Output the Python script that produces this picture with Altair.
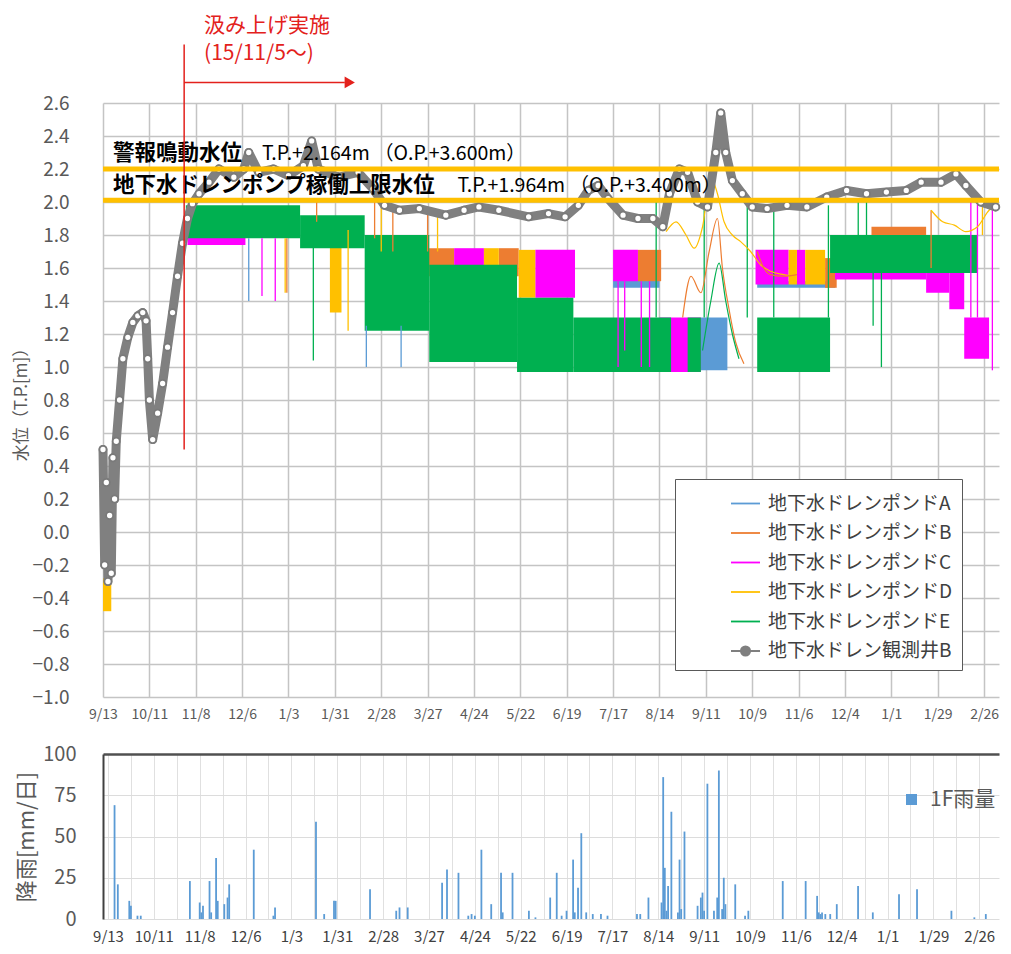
import altair as alt
import pandas as pd

# ---------------- series ----------------
series_codes = ["A", "B", "C", "D", "E", "W"]
series_names = ["地下水ドレンポンドA", "地下水ドレンポンドB", "地下水ドレンポンドC",
                "地下水ドレンポンドD", "地下水ドレンポンドE", "地下水ドレン観測井B"]
series_colors = ["#5B9BD5", "#ED7D31", "#FF00FF", "#FFC000", "#00B050", "#7F7F7F"]
legend_shapes = ["stroke", "stroke", "stroke", "stroke", "stroke",
                 "M-1,0L-0.32,0M0.32,0L1,0M0.32,0A0.32,0.32,0,1,1,-0.32,0A0.32,0.32,0,1,1,0.32,0Z"]
code_to_name = dict(zip(series_codes, series_names))

# ---------------- pond level ranges (oscillation envelopes) ----------------
band_series = ["A", "A", "A",
               "B", "B", "B", "B", "B",
               "C", "C", "C", "C", "C", "C", "C", "C", "C", "C", "C",
               "D", "D", "D", "D", "D", "D",
               "E", "E", "E", "E", "E", "E", "E", "E", "E"]
band_start = ["2016-09-08", "2016-07-17", "2016-10-12",
              "2016-03-22", "2016-05-09", "2016-08-01", "2016-11-22", "2016-12-20",
              "2015-11-03", "2016-04-12", "2016-05-31", "2016-07-17", "2016-08-14", "2016-10-11",
              "2016-11-05", "2016-11-28", "2017-01-22", "2017-02-05", "2017-02-14",
              "2015-09-13", "2016-01-28", "2016-04-30", "2016-05-21", "2016-10-31", "2016-11-10",
              "2015-11-02", "2016-01-10", "2016-02-18", "2016-03-28", "2016-05-20", "2016-06-23",
              "2016-08-31", "2016-10-12", "2016-11-25"]
band_end = ["2016-09-24", "2016-08-14", "2016-11-28",
            "2016-04-12", "2016-05-21", "2016-08-15", "2016-11-29", "2017-01-22",
            "2015-12-08", "2016-04-30", "2016-06-24", "2016-08-01", "2016-09-08", "2016-10-31",
            "2016-11-10", "2017-01-22", "2017-02-05", "2017-02-14", "2017-03-01",
            "2015-09-18", "2016-02-04", "2016-05-09", "2016-05-31", "2016-11-05", "2016-11-22",
            "2016-01-10", "2016-02-18", "2016-03-28", "2016-05-20", "2016-06-23", "2016-08-21",
            "2016-09-08", "2016-11-25", "2017-02-22"]
band_low = [0.98, 1.48, 1.48,
            1.55, 1.55, 1.52, 1.48, 1.60,
            1.74, 1.55, 1.42, 1.52, 0.97, 1.50, 1.50, 1.53, 1.45, 1.35, 1.05,
            -0.48, 1.33, 1.55, 1.42, 1.50, 1.50,
            1.78, 1.72, 1.22, 1.03, 0.97, 0.97, 0.97, 0.97, 1.57]
band_high = [1.30, 1.53, 1.52,
             1.72, 1.72, 1.71, 1.66, 1.85,
             1.87, 1.72, 1.71, 1.71, 1.30, 1.71, 1.71, 1.65, 1.62, 1.62, 1.30,
             -0.28, 1.75, 1.72, 1.71, 1.71, 1.71,
             1.98, 1.92, 1.80, 1.62, 1.42, 1.30, 1.30, 1.30, 1.80]

# ---------------- short excursions of pond levels ----------------
spike_series = ["A", "A", "A",
                "B", "B", "B", "B", "B", "B",
                "C", "C", "C", "C", "C", "C", "C", "C", "C",
                "D", "D", "D", "D", "D",
                "E", "E", "E", "E", "E", "E", "E", "E", "E", "E"]
spike_date = ["2015-12-10", "2016-02-19", "2016-03-11",
              "2016-01-02", "2016-01-20", "2016-02-24", "2016-03-06", "2016-03-27", "2017-01-25",
              "2015-12-18", "2015-12-26", "2016-07-20", "2016-07-24", "2016-08-03", "2016-08-08",
              "2017-02-18", "2017-02-22", "2017-03-03",
              "2016-01-01", "2016-02-08", "2016-02-28", "2016-04-02", "2017-02-25",
              "2016-01-18", "2016-08-12", "2016-09-10", "2016-10-06", "2016-10-22", "2016-11-24",
              "2016-12-12", "2016-12-17", "2016-12-21", "2016-12-26"]
spike_low = [1.40, 1.00, 1.00,
             1.45, 1.88, 1.78, 1.70, 1.70, 1.60,
             1.43, 1.40, 1.00, 1.10, 1.00, 1.00, 1.30, 1.30, 0.98,
             1.45, 1.22, 1.70, 1.70, 1.80,
             1.04, 1.30, 1.30, 1.30, 1.30, 1.30, 1.80, 1.80, 1.25, 1.00]
spike_high = [1.78, 1.25, 1.25,
              1.78, 2.00, 2.00, 1.98, 1.95, 1.95,
              1.78, 1.78, 1.52, 1.52, 1.52, 1.52, 2.00, 2.00, 2.00,
              1.78, 1.83, 2.00, 1.95, 2.00,
              1.75, 2.00, 1.98, 1.98, 1.98, 1.98, 2.00, 2.00, 1.57, 1.57]

# ---------------- slowly varying pond traces ----------------
trace_series = (["D"] * 15 + ["D"] * 7 + ["B"] * 9 + ["B"] * 5 + ["E"] * 6)
trace_seg = (["d1"] * 15 + ["d2"] * 7 + ["b1"] * 9 + ["b2"] * 5 + ["e1"] * 6)
trace_date = ["2016-08-18", "2016-08-24", "2016-08-30", "2016-09-04", "2016-09-09", "2016-09-14",
              "2016-09-18", "2016-09-22", "2016-09-27", "2016-10-02", "2016-10-08", "2016-10-14",
              "2016-10-20", "2016-10-28", "2016-11-04",
              "2017-01-25", "2017-02-01", "2017-02-08", "2017-02-15", "2017-02-22", "2017-03-01", "2017-03-05",
              "2016-08-28", "2016-09-02", "2016-09-08", "2016-09-13", "2016-09-18", "2016-09-21",
              "2016-09-25", "2016-09-29", "2016-10-04",
              "2016-10-12", "2016-10-16", "2016-10-20", "2016-10-28", "2016-11-05",
              "2016-09-09", "2016-09-14", "2016-09-19", "2016-09-23", "2016-09-27", "2016-10-01"]
trace_value = [1.82, 1.88, 1.80, 1.72, 1.85, 2.15, 2.05, 1.88, 1.80, 1.76, 1.70, 1.62, 1.58, 1.56, 1.55,
               1.95, 1.88, 1.86, 1.82, 1.85, 1.95, 1.98,
               1.30, 1.55, 1.45, 1.70, 1.90, 1.60, 1.35, 1.15, 1.02,
               1.70, 1.60, 1.56, 1.55, 1.56,
               1.10, 1.40, 1.63, 1.40, 1.20, 1.05]

# ---------------- observation well B ----------------
well_date = ["2015-09-13", "2015-09-14", "2015-09-15", "2015-09-16", "2015-09-17", "2015-09-18",
             "2015-09-19", "2015-09-20", "2015-09-21", "2015-09-23", "2015-09-25", "2015-09-28",
             "2015-10-01", "2015-10-04", "2015-10-07", "2015-10-09", "2015-10-10", "2015-10-11",
             "2015-10-13", "2015-10-16", "2015-10-19", "2015-10-22", "2015-10-25", "2015-10-28",
             "2015-10-31", "2015-11-03", "2015-11-06", "2015-11-10", "2015-11-16", "2015-11-22",
             "2015-12-01", "2015-12-07", "2015-12-10", "2015-12-16", "2015-12-25", "2016-01-03",
             "2016-01-12", "2016-01-17", "2016-01-21", "2016-02-02", "2016-02-14", "2016-02-23",
             "2016-03-01", "2016-03-10", "2016-03-22", "2016-04-07", "2016-04-18", "2016-04-27",
             "2016-05-09", "2016-05-27", "2016-06-08", "2016-06-18", "2016-06-26", "2016-07-02",
             "2016-07-08", "2016-07-14", "2016-07-23", "2016-08-01", "2016-08-10", "2016-08-16",
             "2016-08-20", "2016-08-26", "2016-08-31", "2016-09-06", "2016-09-12", "2016-09-17",
             "2016-09-20", "2016-09-23", "2016-09-27", "2016-10-03", "2016-10-09", "2016-10-18",
             "2016-10-30", "2016-11-11", "2016-11-23", "2016-12-05", "2016-12-17", "2016-12-29",
             "2017-01-10", "2017-01-19", "2017-01-31", "2017-02-09", "2017-02-15", "2017-02-24",
             "2017-03-05"]
well_value = [0.50, -0.20, 0.30, -0.30, 0.10, -0.25,
              0.45, 0.20, 0.55, 0.80, 1.05, 1.18,
              1.27, 1.31, 1.33, 1.28, 1.05, 0.80,
              0.56, 0.72, 0.90, 1.12, 1.33, 1.55,
              1.75, 1.90, 1.99, 2.05, 2.12, 2.20,
              2.15, 2.20, 2.30, 2.18, 2.20, 2.16,
              2.22, 2.37, 2.20, 2.15, 2.18, 2.08,
              1.98, 1.95, 1.96, 1.92, 1.95, 1.97,
              1.95, 1.91, 1.93, 1.91, 1.98, 2.07,
              2.10, 2.02, 1.92, 1.90, 1.90, 1.85,
              2.05, 2.20, 2.18, 2.00, 1.97, 2.30,
              2.54, 2.30, 2.13, 2.05, 1.97, 1.96,
              1.98, 1.97, 2.03, 2.07, 2.05, 2.06,
              2.07, 2.12, 2.12, 2.17, 2.10, 2.00,
              1.97]

# ---------------- rainfall ----------------
rain_date = ["2015-09-17", "2015-09-19", "2015-09-26", "2015-09-27", "2015-10-01", "2015-10-03",
             "2015-11-02", "2015-11-08", "2015-11-09", "2015-11-10", "2015-11-14", "2015-11-15",
             "2015-11-18", "2015-11-19", "2015-11-23", "2015-11-25", "2015-11-26", "2015-12-11",
             "2015-12-23", "2015-12-24", "2016-01-18", "2016-01-23", "2016-01-29", "2016-01-30",
             "2016-02-20", "2016-03-07", "2016-03-09", "2016-03-14", "2016-04-04", "2016-04-07",
             "2016-04-14", "2016-04-20", "2016-04-22", "2016-04-24", "2016-04-28", "2016-05-04",
             "2016-05-10", "2016-05-11", "2016-05-17", "2016-05-27", "2016-05-31", "2016-06-09",
             "2016-06-13", "2016-06-16", "2016-06-19", "2016-06-23", "2016-06-24", "2016-06-26",
             "2016-06-28", "2016-07-01", "2016-07-05", "2016-07-10", "2016-07-14", "2016-08-01",
             "2016-08-03", "2016-08-08", "2016-08-16", "2016-08-17", "2016-08-18", "2016-08-19",
             "2016-08-20", "2016-08-22", "2016-08-26", "2016-08-27", "2016-08-28", "2016-08-30",
             "2016-09-07", "2016-09-09", "2016-09-10", "2016-09-11", "2016-09-13", "2016-09-17",
             "2016-09-19", "2016-09-20", "2016-09-22", "2016-09-23", "2016-09-24", "2016-09-30",
             "2016-10-06", "2016-10-08", "2016-10-29", "2016-11-12", "2016-11-19", "2016-11-20",
             "2016-11-21", "2016-11-22", "2016-11-24", "2016-11-27", "2016-12-01", "2016-12-14",
             "2016-12-23", "2017-01-08", "2017-01-19", "2017-02-09", "2017-02-23", "2017-03-02"]
rain_mm = [69, 21, 11, 8, 2, 2,
           23, 10, 4, 8, 23, 4,
           37, 11, 9, 13, 21, 42,
           2, 7, 59, 3, 11, 11,
           18, 5, 7, 7, 22, 30,
           28, 2, 3, 2, 42, 9,
           28, 4, 28, 5, 1, 13,
           28, 2, 5, 36, 4, 19,
           52, 4, 3, 3, 2, 3,
           3, 13, 10, 86, 31, 5,
           20, 65, 4, 36, 6, 53,
           8, 13, 16, 5, 82, 5,
           13, 90, 6, 25, 9, 21,
           2, 5, 23, 23, 14, 4,
           3, 4, 3, 3, 9, 20,
           4, 15, 18, 5, 1, 3]
rain_label = "1F雨量"

# ---------------- axes ----------------
x_start, x_end = "2015-09-13", "2017-03-07"
label_dates = ["2015-09-13", "2015-10-11", "2015-11-08", "2015-12-06", "2016-01-03", "2016-01-31",
               "2016-02-28", "2016-03-27", "2016-04-24", "2016-05-22", "2016-06-19", "2016-07-17",
               "2016-08-14", "2016-09-11", "2016-10-09", "2016-11-06", "2016-12-04", "2017-01-01",
               "2017-01-29", "2017-02-26"]
rain_grid_dates = ["2015-09-13", "2015-09-27", "2015-10-11", "2015-10-25", "2015-11-08", "2015-11-22",
                   "2015-12-06", "2015-12-20", "2016-01-03", "2016-01-17", "2016-01-31", "2016-02-14",
                   "2016-02-28", "2016-03-13", "2016-03-27", "2016-04-10", "2016-04-24", "2016-05-08",
                   "2016-05-22", "2016-06-05", "2016-06-19", "2016-07-03", "2016-07-17", "2016-07-31",
                   "2016-08-14", "2016-08-28", "2016-09-11", "2016-09-25", "2016-10-09", "2016-10-23",
                   "2016-11-06", "2016-11-20", "2016-12-04", "2016-12-18", "2017-01-01", "2017-01-15",
                   "2017-01-29", "2017-02-12", "2017-02-26"]
level_ticks = [-1.0, -0.8, -0.6, -0.4, -0.2, 0.0, 0.2, 0.4, 0.6, 0.8, 1.0, 1.2, 1.4, 1.6,
               1.8, 2.0, 2.2, 2.4, 2.6]
rain_ticks = [0, 25, 50, 75, 100]

# ---------------- reference levels & annotation ----------------
thr_level = [2.2, 2.01]
thr_name = ["警報鳴動水位", "地下水ドレンポンプ稼働上限水位"]
thr_detail = ["T.P.+2.164m （O.P.+3.600m）", "T.P.+1.964m （O.P.+3.400m）"]
thr_text_y = [2.29, 2.095]
thr_name_date = ["2015-09-19", "2015-09-19"]
thr_detail_date = ["2015-12-18", "2016-04-14"]

pump_start = "2015-11-01"
pump_line_low, pump_line_high = 0.50, 2.955
pump_arrow_y = 2.725
pump_arrow_end = "2016-02-06"
pump_head_date = "2016-02-09"
pump_text = ["汲み上げ実施", "(15/11/5～)"]
pump_text_y = [3.067, 2.897]
pump_text_date = "2015-11-13"
RED = "#E3211C"


def dt(s):
    t = pd.Timestamp(s)
    return alt.DateTime(year=t.year, month=t.month, date=t.day)


bands = pd.DataFrame({"series": [code_to_name[c] for c in band_series],
                      "start": pd.to_datetime(band_start), "end": pd.to_datetime(band_end),
                      "low": band_low, "high": band_high})
spikes = pd.DataFrame({"series": [code_to_name[c] for c in spike_series],
                       "date": pd.to_datetime(spike_date), "low": spike_low, "high": spike_high})
traces = pd.DataFrame({"series": [code_to_name[c] for c in trace_series], "seg": trace_seg,
                       "date": pd.to_datetime(trace_date), "value": trace_value})
well = pd.DataFrame({"series": code_to_name["W"], "date": pd.to_datetime(well_date), "value": well_value})
rain = pd.DataFrame({"label": rain_label, "date": pd.to_datetime(rain_date), "mm": rain_mm})
thr = pd.DataFrame({"level": thr_level, "name": thr_name, "detail": thr_detail, "ty": thr_text_y,
                    "nd": pd.to_datetime(thr_name_date), "dd": pd.to_datetime(thr_detail_date)})
pump_v = pd.DataFrame({"date": pd.to_datetime([pump_start]), "lo": [pump_line_low], "hi": [pump_line_high]})
pump_a = pd.DataFrame({"start": pd.to_datetime([pump_start]), "end": pd.to_datetime([pump_arrow_end]),
                       "y": [pump_arrow_y], "head": pd.to_datetime([pump_head_date])})
pump_t = pd.DataFrame({"date": pd.to_datetime([pump_text_date] * 2), "y": pump_text_y, "text": pump_text})

x_scale = alt.Scale(domain=[dt(x_start), dt(x_end)])
y_scale = alt.Scale(domain=[-1.0, 2.6], nice=False, zero=False)
color_scale = alt.Scale(domain=series_names, range=series_colors)
GRID = "#c4c4c4"
PLOT_W = 896

x_axis_top = alt.Axis(values=[dt(s) for s in label_dates], format="%-m/%-d", title=None,
                      grid=True, gridColor=GRID, gridWidth=1.5, domain=False, ticks=False,
                      labelFontSize=14, labelColor="#595959", labelPadding=10, labelFlush=False,
                      labelOverlap=False)
y_axis_top = alt.Axis(values=level_ticks, format=".1f", title="水位（T.P.[m]）", titleFontSize=17,
                      titleColor="#595959", titleFontWeight="normal", titlePadding=2,
                      grid=True, gridColor=GRID, gridWidth=1.5, domain=False, ticks=False,
                      labelFontSize=19, labelColor="#595959", labelPadding=34)

legend_def = dict(title=None, orient="none", legendX=572, legendY=376, padding=9,
                  strokeColor="#595959", fillColor="white", symbolSize=841, symbolStrokeWidth=1.8,
                  symbolOpacity=1, symbolFillColor="white", symbolOffset=46,
                  labelFontSize=19, labelColor="#404040", labelOffset=7,
                  rowPadding=3.5, labelLimit=400, labelExpr="datum.label + '  '")


def X(field):
    return alt.X(field, scale=x_scale, axis=x_axis_top)


def Y(field):
    return alt.Y(field, scale=y_scale, axis=y_axis_top)


def C():
    return alt.Color("series:N", scale=color_scale, legend=alt.Legend(**legend_def))


band_layer = alt.Chart(bands).mark_rect().encode(
    x=X("start:T"), x2="end:T", y=Y("low:Q"), y2="high:Q", color=C())

spike_layer = alt.Chart(spikes).mark_rule(strokeWidth=1.3).encode(
    x=X("date:T"), y=Y("low:Q"), y2="high:Q", color=C())

trace_layer = alt.Chart(traces).mark_line(strokeWidth=1.2, interpolate="monotone").encode(
    x=X("date:T"), y=Y("value:Q"), color=C(), detail="seg:N")

well_line = alt.Chart(well).mark_line(color="#808080", strokeWidth=9, strokeJoin="round",
                                      strokeCap="round").encode(x=X("date:T"), y=Y("value:Q"))

well_pts = alt.Chart(well).mark_point(shape="circle", filled=True, fill="white", stroke="#7a7a7a",
                                      strokeWidth=1.8, size=50, opacity=1).encode(
    x=X("date:T"), y=Y("value:Q"))

legend_layer = alt.Chart(well).mark_point(filled=False, fill="white", opacity=0).encode(
    x=X("date:T"), y=Y("value:Q"), color=C(),
    shape=alt.Shape("series:N", scale=alt.Scale(domain=series_names, range=legend_shapes),
                    legend=alt.Legend(**legend_def)))

thr_rules = alt.Chart(thr).mark_rule(color="#FFC000", strokeWidth=5).encode(y=Y("level:Q"))
thr_names = alt.Chart(thr).mark_text(align="left", baseline="middle", fontSize=21.5,
                                     fontWeight="bold", color="#000000").encode(
    x=X("nd:T"), y=Y("ty:Q"), text="name:N")
thr_details = alt.Chart(thr).mark_text(align="left", baseline="middle", fontSize=19.5,
                                       color="#000000").encode(
    x=X("dd:T"), y=Y("ty:Q"), text="detail:N")

red_v = alt.Chart(pump_v).mark_rule(color=RED, strokeWidth=1.5).encode(
    x=X("date:T"), y=Y("lo:Q"), y2="hi:Q")
red_arrow = alt.Chart(pump_a).mark_rule(color=RED, strokeWidth=1.5).encode(
    x=X("start:T"), x2="end:T", y=Y("y:Q"))
red_head = alt.Chart(pump_a).mark_point(shape="triangle-right", filled=True, color=RED,
                                        size=140, opacity=1).encode(x=X("head:T"), y=Y("y:Q"))
red_text = alt.Chart(pump_t).mark_text(align="left", baseline="middle", fontSize=21,
                                       color=RED).encode(x=X("date:T"), y=Y("y:Q"), text="text:N")

top = alt.layer(band_layer, spike_layer, trace_layer, well_line, well_pts, legend_layer,
                thr_rules, thr_names, thr_details, red_v, red_arrow, red_head, red_text
                ).properties(width=PLOT_W, height=594)

# ---------------- rainfall panel ----------------
label_list = ",".join("'%s'" % s for s in label_dates)
bottom_label_expr = ("indexof([" + label_list + "], timeFormat(datum.value, '%Y-%m-%d')) >= 0 ? "
                     "timeFormat(datum.value, '%-m/%-d') : ''")
rain_y_axis = alt.Axis(values=rain_ticks, title="降雨[mm/日]", titleFontSize=22,
                       titleColor="#595959", titleFontWeight="normal", titlePadding=4,
                       grid=True, gridColor="#dcdcdc", domain=True, domainColor="#404040",
                       domainWidth=2, ticks=False, labelFontSize=20, labelColor="#595959",
                       labelPadding=27)
rain_y_scale = alt.Scale(domain=[0, 100], nice=False)

rain_bars = alt.Chart(rain).mark_bar(size=1.8).encode(
    x=alt.X("date:T", scale=x_scale,
            axis=alt.Axis(values=[dt(s) for s in rain_grid_dates], labelExpr=bottom_label_expr,
                          title=None, grid=True, gridColor="#e0e0e0", gridWidth=1, domain=False,
                          ticks=False, labelFontSize=15, labelColor="#404040", labelPadding=10,
                          labelFlush=False, labelOverlap=False)),
    y=alt.Y("mm:Q", scale=rain_y_scale, axis=rain_y_axis),
    color=alt.Color("label:N", scale=alt.Scale(domain=[rain_label], range=["#5B9BD5"]),
                    legend=alt.Legend(title=None, orient="none", legendX=798, legendY=35, padding=0,
                                      symbolType="square", symbolSize=121, labelFontSize=21,
                                      labelColor="#595959", labelOffset=8)))

rain_frame = alt.Chart(rain).mark_point(opacity=0).encode(
    x=alt.X("date:T", scale=x_scale,
            axis=alt.Axis(orient="top", labels=False, ticks=False, grid=False, title=None,
                          domain=True, domainColor="#505050", domainWidth=2.5)),
    y=alt.Y("mm:Q", scale=rain_y_scale, axis=rain_y_axis))

bottom = alt.layer(rain_bars, rain_frame).resolve_axis(x="independent").properties(
    width=PLOT_W, height=165)

chart = alt.vconcat(top, bottom, spacing=23).resolve_scale(
    color="independent", shape="independent").resolve_legend(
    color="independent", shape="independent").properties(
    padding={"left": 4, "top": 6, "right": 0, "bottom": 0}
).configure(font="Noto Sans CJK JP").configure_view(stroke=None)

chart.save("out.html", embed_options={"renderer": "svg", "actions": False})
